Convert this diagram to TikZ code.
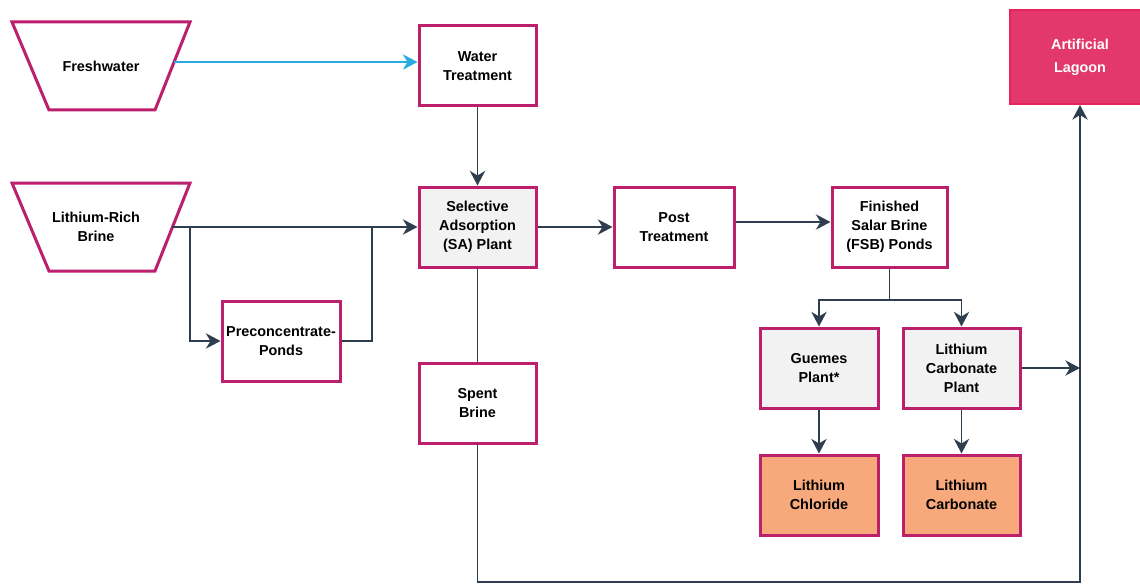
\documentclass[tikz,border=0pt]{standalone}
\usepackage{fontspec}
\setmainfont{Liberation Sans}
\usetikzlibrary{arrows.meta}
\definecolor{bord}{HTML}{BC1F6C}
\definecolor{lineclr}{HTML}{2E3E4E}
\definecolor{blueline}{HTML}{29AAE1}
\definecolor{graybox}{HTML}{F2F2F2}
\definecolor{orangebox}{HTML}{F8A97B}
\definecolor{lagfill}{HTML}{E3386B}
\definecolor{lagbord}{HTML}{E8245A}
\newcommand{\lblfont}{\fontsize{10.8}{14.25}\selectfont\bfseries}
\begin{document}
\begin{tikzpicture}[x=0.75pt,y=-0.75pt,
  box/.style={draw=bord,line width=2.25pt,minimum width=87.75pt,minimum height=60pt,align=center,font=\lblfont,inner sep=2pt,text=black},
  trapline/.style={draw=bord,line width=2.25pt,line join=miter},
  traptext/.style={align=center,font=\lblfont,inner sep=2pt},
  lagoon/.style={draw=lagbord,fill=lagfill,line width=1.5pt,minimum width=105pt,minimum height=70.5pt,align=center,text=white,font=\fontsize{10.8}{17.25}\selectfont\bfseries},
  conn/.style={draw=lineclr,line width=1.2pt},
  arr/.style={conn,-{Stealth[length=11pt,width=11.5pt,inset=3.5pt]}}]
\fill[white] (0,0) rectangle (1140,585);
\useasboundingbox (0,0) rectangle (1140,585);
% trapezoids
\draw[trapline] (12,22) -- (190,22) -- (155,110) -- (49,110) -- cycle;
\draw[trapline] (12,183) -- (190,183) -- (155,271) -- (49,271) -- cycle;
\node[traptext] (fw) at (101,66) {Freshwater};
\node[traptext] (br) at (96,227) {Lithium-Rich\\Brine};
% nodes
\node[box] (wt) at (477.5,66) {Water\\Treatment};
\node[box,fill=graybox] (sa) at (477.5,227) {Selective\\Adsorption\\(SA) Plant};
\node[box,minimum width=90pt] (pt) at (674,227) {Post\\Treatment};
\node[box,minimum width=86.25pt] (fsb) at (889.5,227) {Finished\\Salar Brine\\(FSB) Ponds};
\node[box,minimum width=88.5pt] (pc) at (281,341) {Preconcentrate-\\Ponds};
\node[box] (sb) at (477.5,403) {Spent\\Brine};
\node[box,fill=graybox,minimum width=88.5pt] (gp) at (819,368) {Guemes\\Plant*};
\node[box,fill=graybox] (lcp) at (961.5,368) {Lithium\\Carbonate\\Plant};
\node[box,fill=orangebox,minimum width=88.5pt] (lcl) at (819,495) {Lithium\\Chloride};
\node[box,fill=orangebox] (lca) at (961.5,495) {Lithium\\Carbonate};
\node[lagoon] (lag) at (1080,57) {Artificial\\Lagoon};
% helper coordinates
\coordinate (fwe) at (174,62);
\coordinate (bre) at (172,227);
\coordinate (j1) at (190,227);
\coordinate (j2) at (372,227);
\coordinate (s) at (889.5,300);
\coordinate (r) at (1080,368);
\coordinate (bot) at (1080,582);
% connectors
\draw[arr,draw=blueline] (fwe) -- (fwe -| wt.west);
\draw[arr] (wt) -- (sa);
\draw[arr] (bre) -- (sa);
\draw[arr] (j1) |- (pc);
\draw[conn] (pc) -| (j2);
\draw[arr] (sa) -- (pt);
\draw[arr] ([yshift=3.75pt]pt.east) -- ([yshift=3.75pt]fsb.west);
\draw[conn] (fsb) -- (s);
\draw[arr] (s) -| (gp);
\draw[arr] (s) -| (lcp);
\draw[arr] (gp) -- (lcl);
\draw[arr] (lcp) -- (lca);
\draw[arr] (lcp) -- (r);
\draw[conn] (sa) -- (sb);
\draw[arr] (sb) |- (bot) -- (lag);
\end{tikzpicture}
\end{document}
